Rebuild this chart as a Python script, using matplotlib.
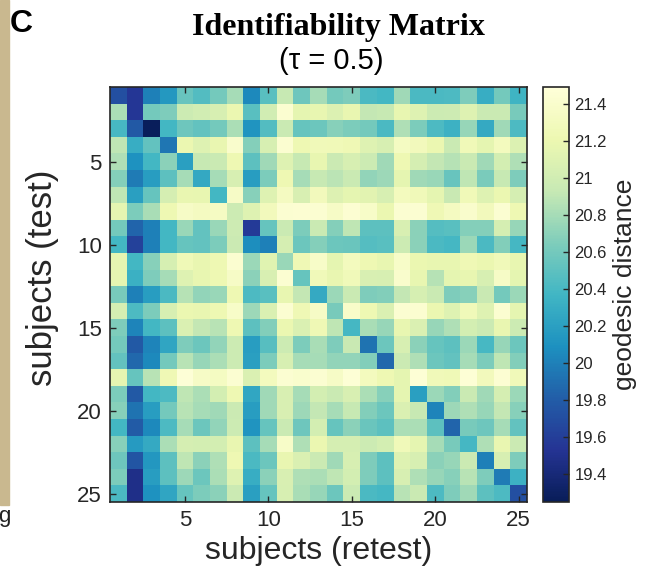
import matplotlib
matplotlib.use('Agg')
import matplotlib.pyplot as plt
from matplotlib.patches import Rectangle
from matplotlib.ticker import FuncFormatter

plt.rcParams['font.family'] = ['Liberation Sans', 'DejaVu Sans']

# geodesic distance, rows = subjects (test), cols = subjects (retest)
geodesic_dist = [
    [19.72, 19.55, 20.00, 20.15, 20.55, 20.45, 20.60, 20.80, 20.05, 20.48, 20.93, 20.58, 20.80, 20.60, 20.65, 20.42, 20.38, 20.78, 20.42, 20.42, 20.43, 20.65, 20.30, 20.60, 20.36],
    [20.82, 19.55, 20.60, 20.65, 20.97, 21.00, 21.05, 21.20, 20.48, 21.00, 21.42, 21.15, 21.17, 21.08, 21.18, 20.92, 20.93, 21.17, 21.10, 20.97, 20.98, 21.10, 20.95, 20.95, 20.62],
    [20.40, 19.78, 19.27, 20.38, 20.58, 20.52, 20.60, 20.82, 20.12, 20.45, 20.95, 20.54, 20.57, 20.68, 20.64, 20.60, 20.42, 20.84, 20.64, 20.43, 20.34, 20.74, 20.28, 20.78, 20.43],
    [20.90, 20.30, 20.52, 19.95, 21.20, 21.10, 21.18, 21.40, 20.67, 21.05, 21.42, 21.22, 21.27, 21.26, 21.24, 21.10, 21.05, 21.33, 21.28, 21.20, 20.95, 21.26, 21.15, 21.30, 21.08],
    [20.84, 20.10, 20.38, 20.70, 20.20, 20.93, 20.95, 21.22, 20.50, 20.78, 21.10, 20.93, 21.17, 20.96, 21.05, 20.97, 20.78, 21.22, 21.03, 20.92, 20.86, 20.95, 20.78, 21.02, 20.84],
    [20.67, 19.97, 20.18, 20.50, 20.80, 20.27, 20.80, 21.05, 20.18, 20.64, 21.22, 20.80, 20.93, 20.88, 20.95, 20.72, 20.77, 21.15, 20.78, 20.75, 20.55, 20.90, 20.63, 20.93, 20.65],
    [20.90, 20.20, 20.54, 21.03, 21.18, 21.17, 20.38, 21.35, 20.68, 21.10, 21.32, 21.06, 21.28, 21.09, 21.15, 21.13, 21.05, 21.30, 21.27, 21.15, 20.94, 21.26, 21.10, 21.20, 21.03],
    [21.15, 20.64, 20.81, 21.22, 21.35, 21.32, 21.34, 20.97, 21.10, 21.28, 21.43, 21.44, 21.43, 21.35, 21.44, 21.37, 21.20, 21.43, 21.43, 21.24, 21.32, 21.40, 21.28, 21.43, 21.22],
    [20.60, 19.85, 20.00, 20.38, 20.75, 20.52, 20.75, 20.98, 19.58, 20.54, 20.95, 20.64, 20.95, 20.67, 20.90, 20.50, 20.50, 21.06, 20.70, 20.46, 20.48, 20.67, 20.67, 21.03, 20.74],
    [20.38, 19.62, 20.00, 20.38, 20.54, 20.52, 20.64, 20.96, 20.08, 20.00, 21.03, 20.57, 20.67, 20.57, 20.56, 20.46, 20.48, 20.97, 20.70, 20.42, 20.39, 20.76, 20.42, 20.66, 20.39],
    [21.15, 20.38, 20.68, 21.04, 21.25, 21.18, 21.22, 21.42, 20.76, 21.12, 20.75, 21.24, 21.37, 21.15, 21.30, 21.22, 21.17, 21.37, 21.20, 21.17, 21.17, 21.24, 21.20, 21.27, 21.17],
    [21.15, 20.33, 20.65, 20.80, 21.10, 21.17, 21.22, 21.35, 20.70, 21.06, 21.43, 20.54, 21.27, 21.18, 21.27, 21.06, 21.05, 21.40, 21.17, 20.86, 21.15, 21.17, 21.05, 21.35, 21.15],
    [20.62, 20.00, 20.18, 20.42, 20.86, 20.72, 20.75, 21.22, 20.43, 20.48, 21.17, 20.92, 20.28, 20.76, 20.95, 20.65, 20.66, 20.92, 21.04, 20.95, 20.65, 20.68, 20.94, 20.60, 20.76],
    [21.03, 20.43, 20.64, 21.05, 21.20, 21.18, 21.22, 21.37, 20.77, 21.07, 21.43, 21.24, 21.35, 20.62, 21.38, 21.22, 21.07, 21.43, 21.42, 21.20, 21.10, 21.27, 21.10, 21.42, 21.15],
    [20.65, 20.02, 20.38, 20.50, 21.07, 20.92, 20.87, 21.22, 20.50, 20.66, 21.20, 21.07, 21.24, 20.90, 20.39, 20.81, 20.74, 21.17, 21.07, 20.74, 20.84, 21.02, 20.96, 21.18, 20.97],
    [20.60, 19.78, 20.02, 20.24, 20.65, 20.57, 20.72, 20.97, 20.18, 20.47, 20.97, 20.64, 20.81, 20.65, 20.94, 19.93, 20.57, 21.05, 20.70, 20.54, 20.50, 20.76, 20.40, 20.74, 20.57],
    [20.52, 19.87, 20.05, 20.60, 20.87, 20.74, 20.82, 20.97, 20.20, 20.64, 21.05, 20.80, 20.80, 20.72, 20.72, 20.66, 19.87, 20.96, 20.84, 20.57, 20.52, 20.80, 20.64, 20.90, 20.66],
    [21.15, 20.54, 20.87, 21.24, 21.47, 21.35, 21.33, 21.43, 21.07, 21.30, 21.43, 21.41, 21.43, 21.35, 21.46, 21.30, 21.22, 21.15, 21.46, 21.27, 21.25, 21.46, 21.28, 21.44, 21.27],
    [20.64, 19.78, 20.38, 20.43, 20.90, 20.82, 21.02, 21.22, 20.25, 20.78, 21.06, 20.80, 21.02, 20.95, 21.06, 20.82, 20.68, 21.15, 20.20, 20.76, 20.66, 20.95, 20.78, 21.03, 20.76],
    [20.68, 19.93, 20.18, 20.60, 20.87, 20.80, 20.78, 20.96, 20.18, 20.78, 21.06, 20.77, 20.92, 20.80, 20.93, 20.66, 20.57, 21.07, 20.93, 20.02, 20.77, 20.84, 20.74, 20.92, 20.68],
    [20.38, 19.80, 20.05, 20.43, 20.80, 20.57, 20.72, 20.97, 20.12, 20.54, 20.95, 20.58, 21.02, 20.54, 20.70, 20.56, 20.50, 20.82, 20.82, 20.50, 19.85, 20.62, 20.58, 20.80, 20.52],
    [20.68, 20.16, 20.28, 20.82, 21.03, 21.02, 21.02, 21.18, 20.50, 20.80, 21.37, 20.84, 21.20, 21.03, 21.03, 20.97, 21.02, 21.27, 21.15, 20.80, 20.62, 20.39, 20.84, 21.18, 20.96],
    [20.58, 19.75, 20.14, 20.50, 20.90, 20.70, 20.84, 21.22, 20.42, 20.57, 21.18, 21.07, 20.96, 20.78, 21.05, 20.65, 20.50, 21.10, 21.05, 20.70, 20.74, 20.96, 20.00, 21.05, 20.65],
    [20.64, 19.48, 20.18, 20.50, 20.77, 20.57, 20.82, 21.10, 20.30, 20.70, 21.06, 20.84, 20.82, 20.90, 21.02, 20.65, 20.50, 21.05, 20.84, 20.74, 20.68, 20.87, 20.65, 19.97, 20.34],
    [20.42, 19.48, 20.10, 20.24, 20.54, 20.64, 20.70, 20.96, 20.20, 20.54, 21.05, 20.81, 20.74, 20.57, 20.96, 20.42, 20.39, 20.87, 20.95, 20.43, 20.65, 20.78, 20.50, 20.43, 19.72],
]
n_subjects = 25
axis_ticks = [5, 10, 15, 20, 25]
cbar_ticks = [19.4, 19.6, 19.8, 20.0, 20.2, 20.4, 20.6, 20.8, 21.0, 21.2, 21.4]
vmin, vmax = 19.25, 21.49

W, H = 654, 572
fig = plt.figure(figsize=(W / 100, H / 100), dpi=100)

# strip of the neighbouring panel at the left edge
fig.patches.append(Rectangle((0, 1 - 505 / H), 9 / W, 505 / H, transform=fig.transFigure,
                             color='#c9b88f', zorder=0))
fig.text(11 / W, 1 - 522 / H, 'g', fontsize=16, ha='right', va='baseline', color='#222222')

ax = fig.add_axes([110 / W, 1 - 502 / H, 417 / W, 415 / H])
im = ax.imshow(geodesic_dist, cmap='YlGnBu_r', vmin=vmin, vmax=vmax, aspect='auto',
               interpolation='nearest',
               extent=[0.5, n_subjects + 0.5, n_subjects + 0.5, 0.5])
ax.set_xticks(axis_ticks)
ax.set_yticks(axis_ticks)
ax.tick_params(direction='in', length=4, width=1, top=True, right=True,
               labelsize=16, colors='#262626', labelcolor='#262626', pad=6)
for s in ax.spines.values():
    s.set_color('#262626')
    s.set_linewidth(1.2)
ax.set_xlabel('subjects (retest)', fontsize=23, color='#262626', labelpad=3)
ax.set_ylabel('subjects (test)', fontsize=25, color='#262626')
ax.yaxis.set_label_coords(-0.122, 0.54)

cax = fig.add_axes([543 / W, 1 - 502 / H, 26 / W, 415 / H])
cb = fig.colorbar(im, cax=cax, ticks=cbar_ticks,
                  format=FuncFormatter(lambda v, p: '%g' % round(v, 1)))
cb.ax.tick_params(direction='in', length=4, width=1, labelsize=12,
                  colors='#262626', labelcolor='#262626', pad=4)
cb.outline.set_edgecolor('#262626')
cb.outline.set_linewidth(1.2)
cb.set_label('geodesic distance', fontsize=19, color='#262626')
cb.ax.yaxis.set_label_coords(2.69, 0.525)

fig.text(338 / W, 1 - 28 / H, 'Identifiability Matrix', fontsize=23, fontweight='bold',
         family='Liberation Serif', ha='center', va='center')
fig.text(331 / W, 1 - 61 / H, '(\u03c4 = 0.5)', fontsize=21, ha='center', va='center')
fig.text(10 / W, 1 - 24 / H, 'C', fontsize=23, fontweight='bold', ha='left', va='center')

fig.savefig('out.png', dpi=100)
